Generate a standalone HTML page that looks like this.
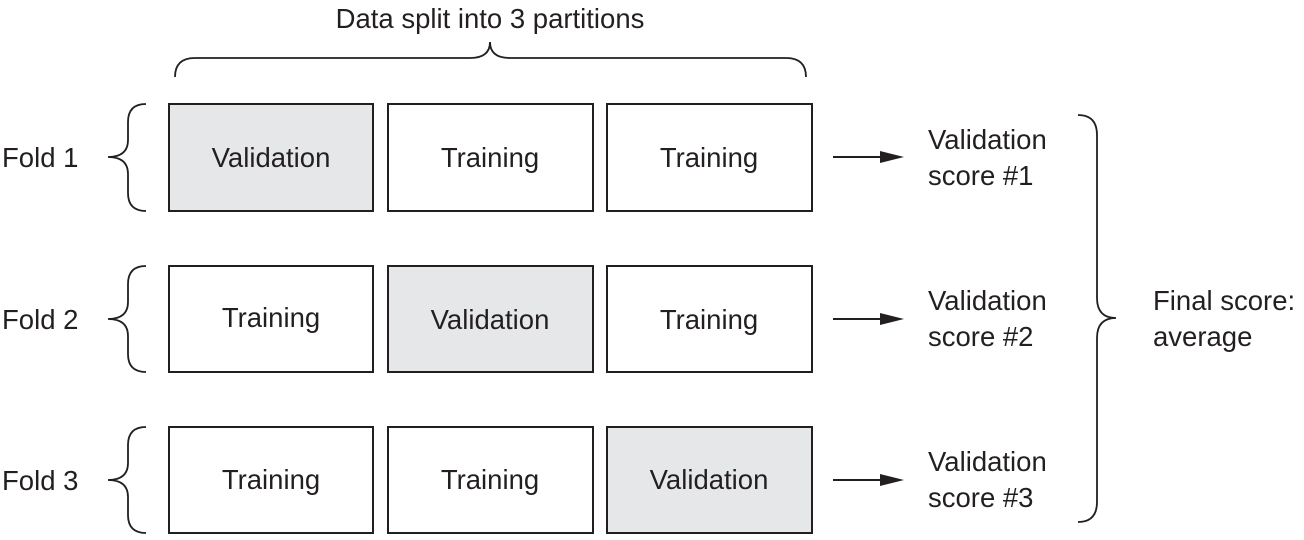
<!DOCTYPE html>
<html><head><style>
body{margin:0;background:#fff;}
svg text{font-family:"Liberation Sans",sans-serif;fill:#231f20;font-size:27.5px;}
</style></head><body>
<svg width="1304" height="535" viewBox="0 0 1304 535" xmlns="http://www.w3.org/2000/svg">
<g fill="none" stroke="#231f20" stroke-width="1.8">
<path d="M175,77 Q175,58 195,58 L470,58 Q490,58 490,42 Q490,58 510,58 L786,58 Q806,58 806,77"/>
<path d="M146,104 Q128,104 128,122 L128,140 Q128,157 108,157 Q128,157 128,174 L128,193 Q128,211 146,211"/>
<path d="M146,266 Q128,266 128,284 L128,302 Q128,319 108,319 Q128,319 128,336 L128,354 Q128,372 146,372"/>
<path d="M146,427 Q128,427 128,445 L128,463 Q128,480 108,480 Q128,480 128,497 L128,515 Q128,533 146,533"/>
<path d="M1078,115 Q1097,115 1097,135 L1097,298 Q1097,318 1116,318 Q1097,318 1097,338 L1097,502 Q1097,522 1078,522"/>
</g>
<g stroke="#231f20" stroke-width="2">
<rect x="169" y="104" width="204" height="107" fill="#e6e7e8"/>
<rect x="388" y="104" width="205" height="107" fill="#fff"/>
<rect x="607" y="104" width="205" height="107" fill="#fff"/>
<rect x="169" y="266" width="204" height="106" fill="#fff"/>
<rect x="388" y="266" width="205" height="106" fill="#e6e7e8"/>
<rect x="607" y="266" width="205" height="106" fill="#fff"/>
<rect x="169" y="427" width="204" height="106" fill="#fff"/>
<rect x="388" y="427" width="205" height="106" fill="#fff"/>
<rect x="607" y="427" width="205" height="106" fill="#e6e7e8"/>
</g>
<g fill="#231f20">
<line x1="833" y1="157" x2="885" y2="157" stroke="#231f20" stroke-width="2"/><path d="M880,151 L904,157 L880,163z"/>
<line x1="833" y1="319" x2="885" y2="319" stroke="#231f20" stroke-width="2"/><path d="M880,313 L904,319 L880,325z"/>
<line x1="833" y1="480" x2="885" y2="480" stroke="#231f20" stroke-width="2"/><path d="M880,474 L904,480 L880,486z"/>
</g>
<text x="490" y="28" text-anchor="middle">Data split into 3 partitions</text>
<text x="2" y="167">Fold 1</text>
<text x="2" y="329">Fold 2</text>
<text x="2" y="490">Fold 3</text>
<g text-anchor="middle">
<text x="271" y="167">Validation</text><text x="490" y="167">Training</text><text x="709" y="167">Training</text>
<text x="271" y="327">Training</text><text x="490" y="329">Validation</text><text x="709" y="329">Training</text>
<text x="271" y="489">Training</text><text x="490" y="489">Training</text><text x="709" y="489">Validation</text>
</g>
<text x="928" y="149">Validation</text><text x="928" y="185">score #1</text>
<text x="928" y="310">Validation</text><text x="928" y="346">score #2</text>
<text x="928" y="471">Validation</text><text x="928" y="507">score #3</text>
<text x="1153" y="310">Final score:</text><text x="1153" y="346">average</text>
</svg>
</body></html>
